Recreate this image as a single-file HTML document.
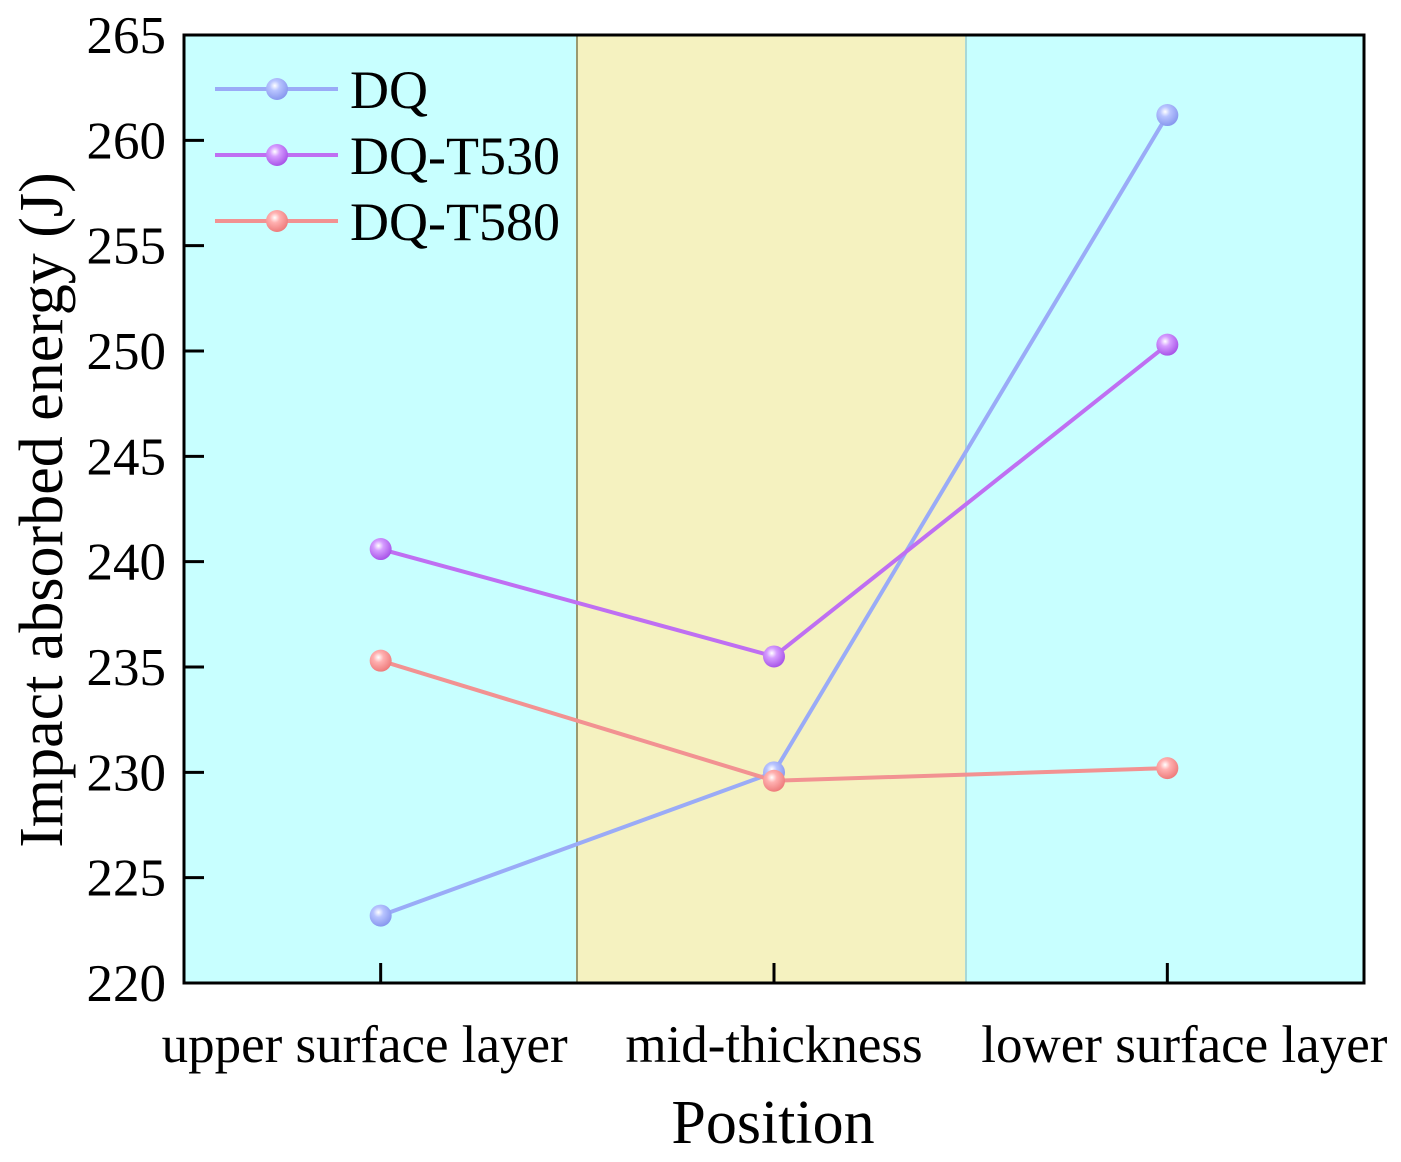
<!DOCTYPE html>
<html><head><meta charset="utf-8"><style>
body{margin:0;background:#fff;}
svg text{font-family:"Liberation Serif",serif;fill:#000;}
</style></head><body>
<svg id="chart" width="1401" height="1157" xmlns="http://www.w3.org/2000/svg">
<defs>
<radialGradient id="gDQ" cx="0.4" cy="0.35" r="0.65"><stop offset="0" stop-color="#ffffff"/><stop offset="0.35" stop-color="#b8c4ff"/><stop offset="1" stop-color="#8898ee"/></radialGradient>
<radialGradient id="g530" cx="0.4" cy="0.35" r="0.65"><stop offset="0" stop-color="#ffffff"/><stop offset="0.35" stop-color="#d59cff"/><stop offset="1" stop-color="#a855e8"/></radialGradient>
<radialGradient id="g580" cx="0.4" cy="0.35" r="0.65"><stop offset="0" stop-color="#ffffff"/><stop offset="0.35" stop-color="#ffb0b0"/><stop offset="1" stop-color="#ee7c7c"/></radialGradient>
</defs>
<g id="bands"></g>
<g id="lines"></g>
<g id="axes"></g>
<text x="773" y="1143" font-size="62" text-anchor="middle">Position</text>
<text transform="translate(62,510) rotate(-90)" font-size="62" text-anchor="middle">Impact absorbed energy (J)</text>
</svg>
<script>
const categories=["upper surface layer","mid-thickness","lower surface layer"];
const seriesNames=["DQ","DQ-T530","DQ-T580"];
const dqValues=[223.2,230.0,261.2];
const t530Values=[240.6,235.5,250.3];
const t580Values=[235.3,229.6,230.2];
const yTicks=[220,225,230,235,240,245,250,255,260,265];
const NS="http://www.w3.org/2000/svg";
const L=184,R=1364,T=35,B=983;
const yMin=220,yMax=265;
function yScale(v){return B-(v-yMin)/(yMax-yMin)*(B-T);}
const step=(R-L)/categories.length;
function xScale(i){return L+step*(i+0.5);}
function mk(tag,attrs,parent){const e=document.createElementNS(NS,tag);for(const k in attrs)e.setAttribute(k,attrs[k]);parent.appendChild(e);return e;}
const bands=document.getElementById('bands'),lines=document.getElementById('lines'),axes=document.getElementById('axes');
const bandColors=["#c8ffff","#f5f2c0","#c8ffff"];
const bandEdges=[L,577,966,R];
categories.forEach((c,i)=>{
  const r=mk('rect',{x:bandEdges[i],y:T,width:bandEdges[i+1]-bandEdges[i],height:B-T,fill:bandColors[i]},bands);
  
  
});
[1,2].forEach(i=>{const l=mk('line',{x1:bandEdges[i],x2:bandEdges[i],y1:T,y2:B,stroke:i==1?'#9a9a70':'#a8d8d8','stroke-width':2},bands);
});
const series=[[dqValues,"#9aabf7","gDQ"],[t530Values,"#bf6ff2","g530"],[t580Values,"#f29292","g580"]];
series.forEach((s,si)=>{
  const pts=s[0].map((v,i)=>xScale(i)+','+yScale(v)).join(' ');
  const pl=mk('polyline',{points:pts,fill:'none',stroke:s[1],'stroke-width':4},lines);
  
  
});
series.forEach((s,si)=>{
  s[0].forEach((v,i)=>{
    const c=mk('circle',{cx:xScale(i),cy:yScale(v),r:11,fill:'url(#'+s[2]+')'},lines);
    
    
  });
});
seriesNames.forEach((n,i)=>{
  const y=89+66*i;
  const g=mk('g',{},lines);
  
  
  mk('line',{x1:215,x2:338,y1:y,y2:y,stroke:series[i][1],'stroke-width':4},g);
  mk('circle',{cx:277,cy:y,r:11,fill:'url(#'+series[i][2]+')'},g);
  const t=mk('text',{x:350,y:y+19,'font-size':54},g);t.textContent=n;
});
const fr=mk('rect',{x:L,y:T,width:R-L,height:B-T,fill:'none',stroke:'#000','stroke-width':3},axes);

yTicks.forEach(v=>{
  const y=yScale(v);
  const tk=mk('line',{x1:L,x2:L+20,y1:y,y2:y,stroke:'#000','stroke-width':3},axes);
  
  const t=mk('text',{x:166,y:y+18,'font-size':53,'text-anchor':'end'},axes);
  t.textContent=v;
  
});
const labelOffsets=[-16,0,17];
categories.forEach((c,i)=>{
  const x=xScale(i);
  const tk=mk('line',{x1:x,x2:x,y1:B-20,y2:B,stroke:'#000','stroke-width':3},axes);
  
  const t=mk('text',{x:x+labelOffsets[i],y:1062,'font-size':53,'text-anchor':'middle'},axes);
  t.textContent=c;
  
});
</script>
</body></html>
